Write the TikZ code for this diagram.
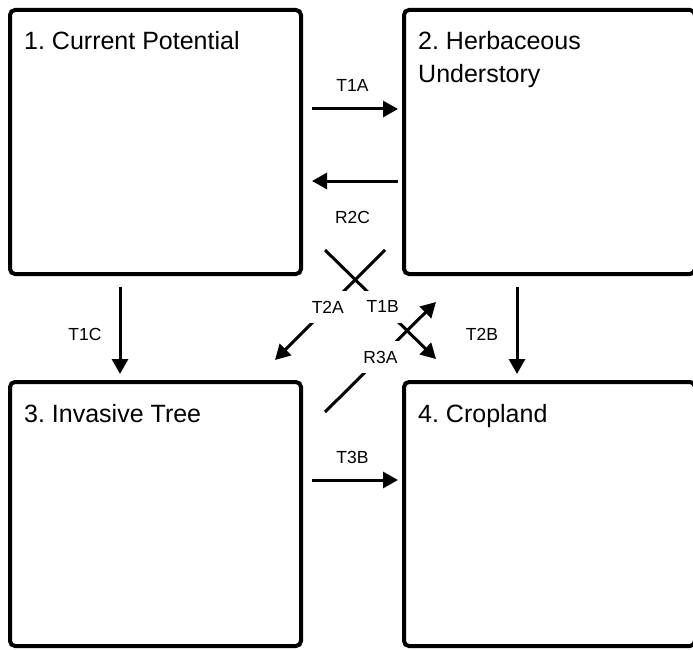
\documentclass[tikz,border=0pt]{standalone}
\usepackage{fontspec}
\setmainfont{Liberation Sans}
\frenchspacing
\usetikzlibrary{arrows.meta,positioning}
\tikzstyle{statebox} = [rectangle, rounded corners=5pt, minimum width=291pt, minimum height=264pt, draw=black, line width=4pt, inner sep=0pt, outer sep=0pt]
\tikzstyle{statename} = [anchor=base west, font=\fontsize{25}{33}\selectfont, align=left, inner sep=0pt]
\tikzstyle{transarrow} = [line width=3pt, -{Triangle[length=15pt,width=16pt]}]
\tikzstyle{translabel} = [font=\fontsize{17.5}{21}\selectfont, inner sep=0pt]
\tikzstyle{gaplabel} = [font=\fontsize{17.5}{21}\selectfont, fill=white, inner xsep=2pt, inner ysep=10pt]

\begin{document}
\begin{tikzpicture}
\useasboundingbox (0,0) rectangle (693pt,-650pt);
% Four states
\node (current) [statebox] at (155.5pt,-142pt) {};
\node (herb) [statebox, right=103pt of current] {};
\node (invasive) [statebox, below=108pt of current] {};
\node (crop) [statebox, right=103pt of invasive] {};

\node (currentname) [statename] at ([xshift=14pt,yshift=-40pt]current.north west) {1. Current Potential};
% base of a two line node is its last line
\node (herbname) [statename] at ([xshift=14pt,yshift=-73pt]herb.north west) {2. Herbaceous\\Understory};
\node (invasivename) [statename] at ([xshift=14pt,yshift=-40pt]invasive.north west) {3. Invasive Tree};
\node (cropname) [statename] at ([xshift=14pt,yshift=-40pt]crop.north west) {4. Cropland};

% Transitions and restorations
\draw[transarrow, shorten <=11pt, shorten >=6pt] ([yshift=33pt]current.east) -- node[translabel, yshift=24pt] {T1A} ([yshift=33pt]herb.west);
\draw[transarrow, shorten <=6pt, shorten >=11pt] ([yshift=-39pt]herb.west) -- node[translabel, yshift=-36pt] {R2C} ([yshift=-39pt]current.east);
\draw[transarrow, shorten <=11pt, shorten >=6pt] ([yshift=34pt]invasive.east) -- node[translabel, yshift=23pt] {T3B} ([yshift=34pt]crop.west);
\draw[transarrow, shorten <=13pt, shorten >=8pt] ([xshift=-35.5pt]current.south) -- node[translabel, xshift=-35pt, yshift=-6pt] {T1C} ([xshift=-35.5pt]invasive.north);
\draw[transarrow, shorten <=13pt, shorten >=8pt] ([xshift=-32.5pt]herb.south) -- node[translabel, xshift=-35pt, yshift=-6pt] {T2B} ([xshift=-32.5pt]crop.north);

\draw[transarrow] ([xshift=-19pt,yshift=24pt]herb.south west) -- node[gaplabel, pos=0.52] {T2A} ([xshift=-26pt,yshift=22pt]invasive.north east);
\draw[transarrow] ([xshift=24pt,yshift=24pt]current.south east) -- node[gaplabel, pos=0.52] {T1B} ([xshift=32pt,yshift=23pt]crop.north west);
\draw[transarrow] ([xshift=24pt,yshift=-30pt]invasive.north east) -- node[gaplabel, pos=0.5] {R3A} ([xshift=32pt,yshift=-28pt]herb.south west);
\end{tikzpicture}
\end{document}
